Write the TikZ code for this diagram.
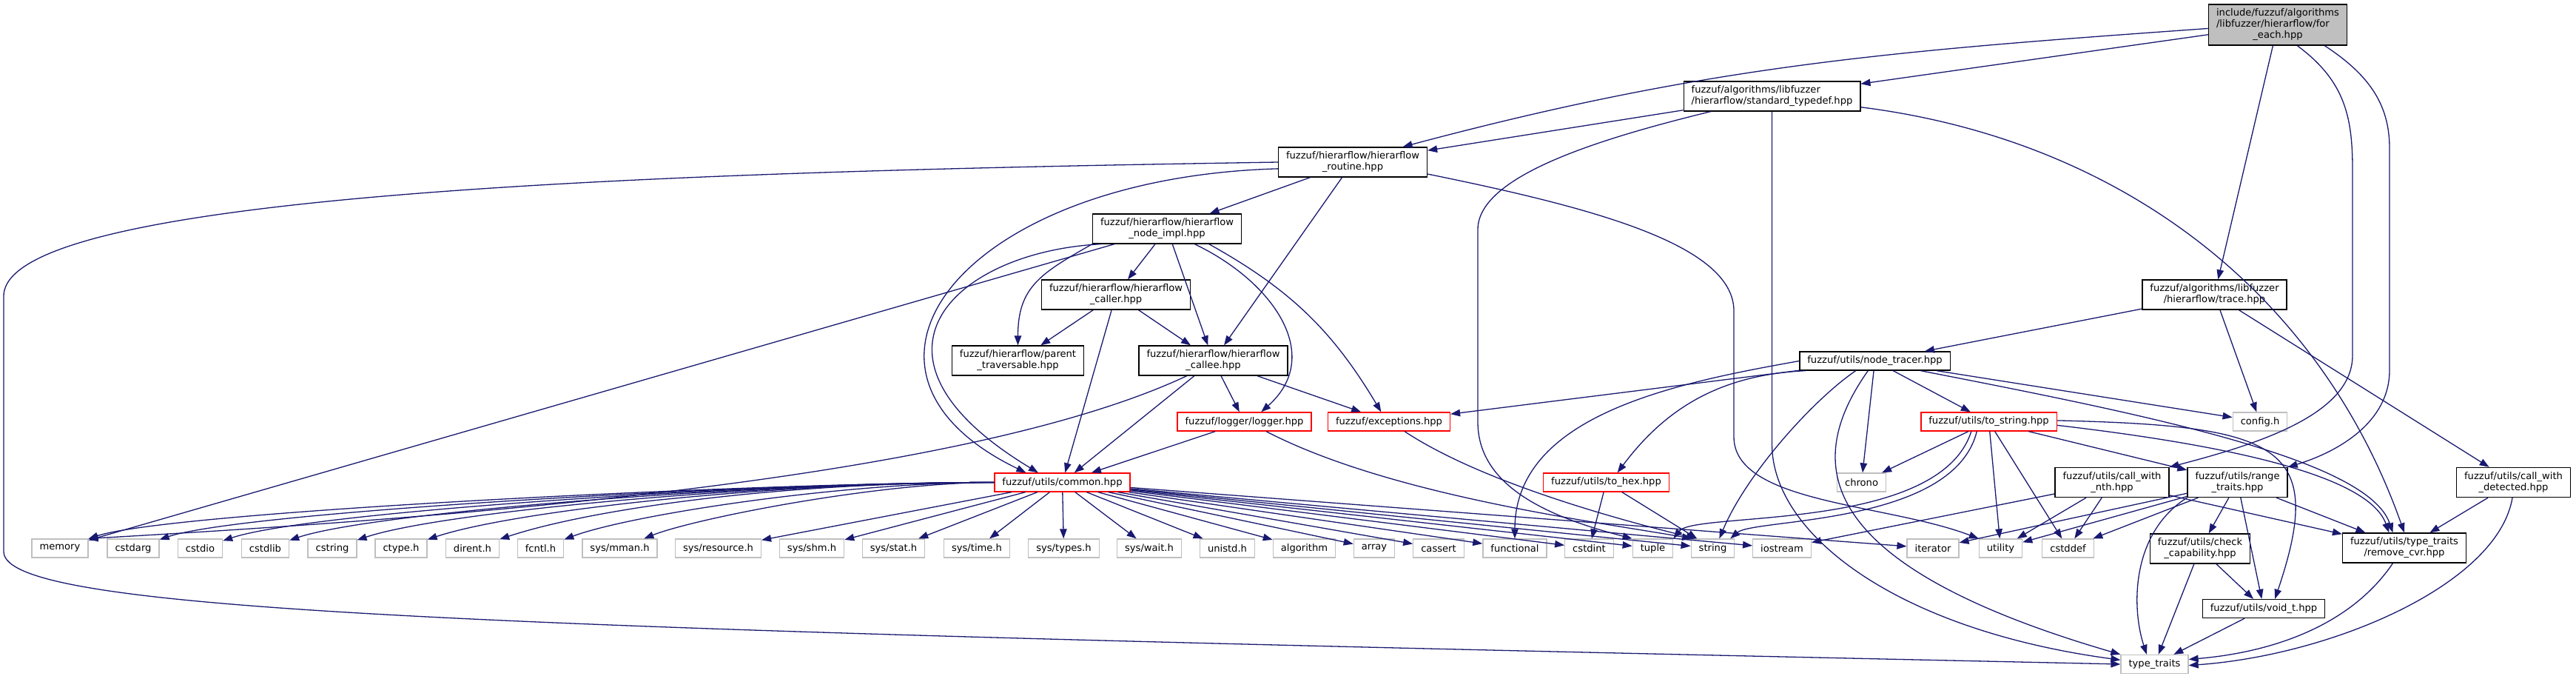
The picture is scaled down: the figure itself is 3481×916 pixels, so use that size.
\documentclass[tikz,border=0pt]{standalone}
\usepackage{fontspec}
\setmainfont{DejaVu Sans}
\usetikzlibrary{arrows.meta}
\definecolor{midnight}{HTML}{191970}
\definecolor{grey75}{HTML}{BFBFBF}
% label lines: all but the last left aligned, the last centred
\newcommand{\twoln}[2]{\begin{tabular}{@{}l@{}}#1\\\multicolumn{1}{@{}c@{}}{#2}\end{tabular}}
\newcommand{\threeln}[3]{\begin{tabular}{@{}l@{}}#1\\#2\\\multicolumn{1}{@{}c@{}}{#3}\end{tabular}}

\begin{document}
\begin{tikzpicture}[x=1pt, y=1pt,
  font=\fontsize{13.1}{15}\selectfont,
  hfile/.style={draw=#1, fill=white, line width=1.3pt, inner xsep=10.5pt,
                inner ysep=5pt, minimum height=25pt},
  dep/.style={-{Triangle[length=13pt,width=9.5pt]}, draw=midnight, line width=1.3pt}
]
  \useasboundingbox (0,0) rectangle (3481,-916);
  % Fichier racine
  \node[hfile=black, fill=grey75] (root) at (3078,-33.5)
        {\threeln{include/fuzzuf/algorithms}{/libfuzzer/hierarflow/for}{\_each.hpp}};
  % En-tetes du projet
  \node[hfile=black] (stdtd)    at (2394.5,-130) {\twoln{fuzzuf/algorithms/libfuzzer}{/hierarflow/standard\_typedef.hpp}};
  \node[hfile=black] (routine)  at (1828,-219)   {\twoln{fuzzuf/hierarflow/hierarflow}{\_routine.hpp}};
  \node[hfile=black] (nodeimpl) at (1577,-309)   {\twoln{fuzzuf/hierarflow/hierarflow}{\_node\_impl.hpp}};
  \node[hfile=black] (caller)   at (1508,-398)   {\twoln{fuzzuf/hierarflow/hierarflow}{\_caller.hpp}};
  \node[hfile=black] (parent)   at (1375.5,-487) {\twoln{fuzzuf/hierarflow/parent}{\_traversable.hpp}};
  \node[hfile=black] (callee)   at (1639.5,-487) {\twoln{fuzzuf/hierarflow/hierarflow}{\_callee.hpp}};
  \node[hfile=red]   (logger)   at (1681.5,-569.5) {fuzzuf/logger/logger.hpp};
  \node[hfile=red]   (except)   at (1877,-569.5) {fuzzuf/exceptions.hpp};
  \node[hfile=red]   (common)   at (1435.5,-651.5) {fuzzuf/utils/common.hpp};
  \node[hfile=black] (trace)    at (2992.5,-398) {\twoln{fuzzuf/algorithms/libfuzzer}{/hierarflow/trace.hpp}};
  \node[hfile=black] (ntracer)  at (2533.5,-487.5) {fuzzuf/utils/node\_tracer.hpp};
  \node[hfile=red]   (tostr)    at (2687.5,-569.5) {fuzzuf/utils/to\_string.hpp};
  \node[hfile=red]   (tohex)    at (2170.5,-651.5) {fuzzuf/utils/to\_hex.hpp};
  \node[hfile=black] (cwnth)    at (2854,-651.5) {\twoln{fuzzuf/utils/call\_with}{\_nth.hpp}};
  \node[hfile=black] (range)    at (3023.5,-651.5) {\twoln{fuzzuf/utils/range}{\_traits.hpp}};
  \node[hfile=black] (cwdet)    at (3396.5,-651.5) {\twoln{fuzzuf/utils/call\_with}{\_detected.hpp}};
  \node[hfile=black] (checkcap) at (2973,-741)   {\twoln{fuzzuf/utils/check}{\_capability.hpp}};
  \node[hfile=black] (rmcvr)    at (3249,-740)   {\twoln{fuzzuf/utils/type\_traits}{/remove\_cvr.hpp}};
  \node[hfile=black] (voidt)    at (3059,-822)   {fuzzuf/utils/void\_t.hpp};
  % En-tetes systeme
  \node[hfile=grey75] (config)  at (3054,-569.5) {config.h};
  \node[hfile=grey75] (chrono)  at (2515.5,-651.5) {chrono};
  \node[hfile=grey75] (ttraits) at (2911.5,-897) {type\_traits};
  \node[hfile=grey75] (memory)     at (81,-740.5)     {memory};
  \node[hfile=grey75] (cstdarg)    at (180,-740.5)    {cstdarg};
  \node[hfile=grey75] (cstdio)     at (270.5,-740.5)  {cstdio};
  \node[hfile=grey75] (cstdlib)    at (358.5,-740.5)  {cstdlib};
  \node[hfile=grey75] (cstring)    at (449,-740.5)    {cstring};
  \node[hfile=grey75] (ctypeh)     at (542,-740.5)    {ctype.h};
  \node[hfile=grey75] (direnth)    at (638.5,-740.5)  {dirent.h};
  \node[hfile=grey75] (fcntlh)     at (730.5,-740.5)  {fcntl.h};
  \node[hfile=grey75] (sysmman)    at (837.5,-740.5)  {sys/mman.h};
  \node[hfile=grey75] (sysres)     at (970.5,-740.5)  {sys/resource.h};
  \node[hfile=grey75] (sysshm)     at (1097,-740.5)   {sys/shm.h};
  \node[hfile=grey75] (sysstat)    at (1207.5,-740.5) {sys/stat.h};
  \node[hfile=grey75] (systime)    at (1320,-740.5)   {sys/time.h};
  \node[hfile=grey75] (systypes)   at (1437.5,-740.5) {sys/types.h};
  \node[hfile=grey75] (syswait)    at (1553,-740.5)   {sys/wait.h};
  \node[hfile=grey75] (unistdh)    at (1658.5,-740.5) {unistd.h};
  \node[hfile=grey75] (algorithm)  at (1762.5,-740.5) {algorithm};
  \node[hfile=grey75] (array)      at (1857,-740.5)   {array};
  \node[hfile=grey75] (cassert)    at (1944,-740.5)   {cassert};
  \node[hfile=grey75] (functional) at (2047,-740.5)   {functional};
  \node[hfile=grey75] (cstdint)    at (2147.5,-740.5) {cstdint};
  \node[hfile=grey75] (tuple)      at (2233.5,-740.5) {tuple};
  \node[hfile=grey75] (string)     at (2314.5,-740.5) {string};
  \node[hfile=grey75] (iostream)   at (2408,-740.5)   {iostream};
  \node[hfile=grey75] (iterator)   at (2612,-740.5)   {iterator};
  \node[hfile=grey75] (utility)    at (2703.5,-740.5) {utility};
  \node[hfile=grey75] (cstddef)    at (2794.5,-740.5) {cstddef};
  % Fleches depuis la racine
  \draw[dep] (root.183) .. controls (2555,-69) and (2311,-87.5) .. (routine.17);
  \draw[dep] (root) -- (stdtd);
  \draw[dep] (root) -- (trace);
  \draw[dep] (root.-47) .. controls (3170,-110) and (3179,-160) .. (3179,-230)
             -- (3179,-480) .. controls (3179,-560) and (3050,-600) .. (cwnth.north east);
  \draw[dep] (root.-24) .. controls (3200,-100) and (3229,-140) .. (3229,-200)
             -- (3229,-500) .. controls (3229,-570) and (3160,-610) .. (range.north east);
  % standard_typedef
  \draw[dep] (stdtd) -- (routine);
  \draw[dep] (stdtd.-166) .. controls (2150,-190) and (1997,-240) .. (1997,-310)
             -- (1997,-570) .. controls (1997,-660) and (2100,-700) .. (tuple.north west);
  \draw[dep] (stdtd.south) -- (2394.5,-600) .. controls (2394.5,-720) and (2560,-850) .. (ttraits.173);
  \draw[dep] (stdtd.-7) .. controls (2859,-188) and (3132,-389) .. (rmcvr.north);
  % hierarflow_routine
  \draw[dep] (routine) -- (nodeimpl);
  \draw[dep] (routine.-175) .. controls (1300,-240) and (1100,-500) .. (common.165);
  \draw[dep] (routine) -- (callee);
  \draw[dep] (routine.-9) .. controls (2150,-280) and (2343,-330) .. (2343,-420)
             -- (2343,-590) .. controls (2343,-680) and (2550,-680) .. (utility.north west);
  \draw[dep] (routine.west) .. controls (900,-232) and (5,-260) .. (5,-400)
             -- (5,-745) .. controls (5,-830) and (700,-850) .. (ttraits.west);
  % hierarflow_node_impl
  \draw[dep] (nodeimpl) -- (memory);
  \draw[dep] (nodeimpl.-167) .. controls (1290,-340) and (1140,-480) .. (common.158);
  \draw[dep] (nodeimpl.south west) .. controls (1407,-369) and (1375.5,-387) .. (parent.north);
  \draw[dep] (nodeimpl) -- (caller);
  \draw[dep] (nodeimpl) -- (callee);
  \draw[dep] (nodeimpl.-29) .. controls (1720,-380) and (1790,-480) .. (logger.30);
  \draw[dep] (nodeimpl.-20) .. controls (1744,-391) and (1801,-447) .. (except.129);
  % hierarflow_caller
  \draw[dep] (caller) -- (parent);
  \draw[dep] (caller) -- (common);
  \draw[dep] (caller) -- (callee);
  % hierarflow_callee
  \draw[dep] (callee.-150) .. controls (1300,-650) and (600,-700) .. (memory.north east);
  \draw[dep] (callee) -- (common);
  \draw[dep] (callee) -- (logger);
  \draw[dep] (callee) -- (except);
  % logger, exceptions
  \draw[dep] (logger) -- (common);
  \draw[dep] (logger.-24) .. controls (1880,-670) and (2160,-705) .. (string.155);
  \draw[dep] (except.-32) .. controls (2000,-650) and (2180,-700) .. (string.150);
  % trace
  \draw[dep] (trace) -- (ntracer);
  \draw[dep] (trace) -- (config);
  \draw[dep] (trace) -- (cwdet);
  % node_tracer
  \draw[dep] (ntracer) -- (except);
  \draw[dep] (ntracer.west) .. controls (2266,-517) and (2047,-560) .. (functional.north);
  \draw[dep] (ntracer.-172) .. controls (2330,-506) and (2254,-547) .. (tohex.41);
  \draw[dep] (ntracer.-153) .. controls (2450,-540) and (2360,-640) .. (string.56);
  \draw[dep] (ntracer) -- (chrono);
  \draw[dep] (ntracer.-125) .. controls (2440,-620) and (2440,-760) .. (ttraits.north west);
  \draw[dep] (ntracer) -- (tostr);
  \draw[dep] (ntracer) -- (config);
  \draw[dep] (ntracer.-12) .. controls (2900,-560) and (3200,-620) .. (rmcvr.127);
  % to_hex
  \draw[dep] (tohex) -- (cstdint);
  \draw[dep] (tohex) -- (string);
  % to_string
  \draw[dep] (tostr) -- (chrono);
  \draw[dep] (tostr.-151) .. controls (2620,-720) and (2290,-690) .. (tuple.north east);
  \draw[dep] (tostr.-141) .. controls (2640,-710) and (2370,-700) .. (string.29);
  \draw[dep] (tostr) -- (utility);
  \draw[dep] (tostr) -- (cstddef);
  \draw[dep] (tostr) -- (range);
  \draw[dep] (tostr.-3) .. controls (3000,-600) and (3200,-640) .. (rmcvr.135);
  \draw[dep] (tostr.1) .. controls (3080,-575) and (3145,-600) .. (voidt.41);
  % call_with_nth
  \draw[dep] (cwnth) -- (iostream);
  \draw[dep] (cwnth) -- (utility);
  \draw[dep] (cwnth) -- (cstddef);
  \draw[dep] (cwnth) -- (rmcvr);
  % range_traits
  \draw[dep] (range) -- (iterator);
  \draw[dep] (range) -- (utility);
  \draw[dep] (range) -- (cstddef);
  \draw[dep] (range) -- (checkcap);
  \draw[dep] (range) -- (voidt);
  \draw[dep] (range) -- (rmcvr);
  \draw[dep] (range.south west) .. controls (2880,-720) and (2880,-820) .. (ttraits.129);
  % call_with_detected, check_capability, void_t, remove_cvr
  \draw[dep] (cwdet) -- (rmcvr);
  \draw[dep] (cwdet.-94) .. controls (3375,-790) and (3150,-885) .. (ttraits.-2);
  \draw[dep] (checkcap) -- (voidt);
  \draw[dep] (checkcap) -- (ttraits);
  \draw[dep] (voidt) -- (ttraits);
  \draw[dep] (rmcvr.-127) .. controls (3180,-840) and (3080,-880) .. (ttraits.8);
  % common.hpp vers les en-tetes systeme
  \draw[dep] (common) .. controls +(-400,0) and +(150,50) .. (memory);
  \draw[dep] (common) .. controls +(-400,0) and +(150,50) .. (cstdarg);
  \draw[dep] (common) .. controls +(-400,0) and +(150,50) .. (cstdio);
  \draw[dep] (common) .. controls +(-400,0) and +(150,50) .. (cstdlib);
  \draw[dep] (common) .. controls +(-400,0) and +(150,50) .. (cstring);
  \draw[dep] (common) .. controls +(-400,0) and +(150,50) .. (ctypeh);
  \draw[dep] (common) .. controls +(-400,0) and +(150,50) .. (direnth);
  \draw[dep] (common) .. controls +(-300,0) and +(120,45) .. (fcntlh);
  \draw[dep] (common) .. controls +(-250,0) and +(100,40) .. (sysmman);
  \draw[dep] (common) -- (sysres);
  \draw[dep] (common) -- (sysshm);
  \draw[dep] (common) -- (sysstat);
  \draw[dep] (common) -- (systime);
  \draw[dep] (common) -- (systypes);
  \draw[dep] (common) -- (syswait);
  \draw[dep] (common) -- (unistdh);
  \draw[dep] (common) -- (algorithm);
  \draw[dep] (common) -- (array);
  \draw[dep] (common) -- (cassert);
  \draw[dep] (common) -- (functional);
  \draw[dep] (common) -- (cstdint);
  \draw[dep] (common) -- (tuple);
  \draw[dep] (common) -- (string);
  \draw[dep] (common) -- (iostream);
  \draw[dep] (common) -- (iterator);
\end{tikzpicture}
\end{document}
